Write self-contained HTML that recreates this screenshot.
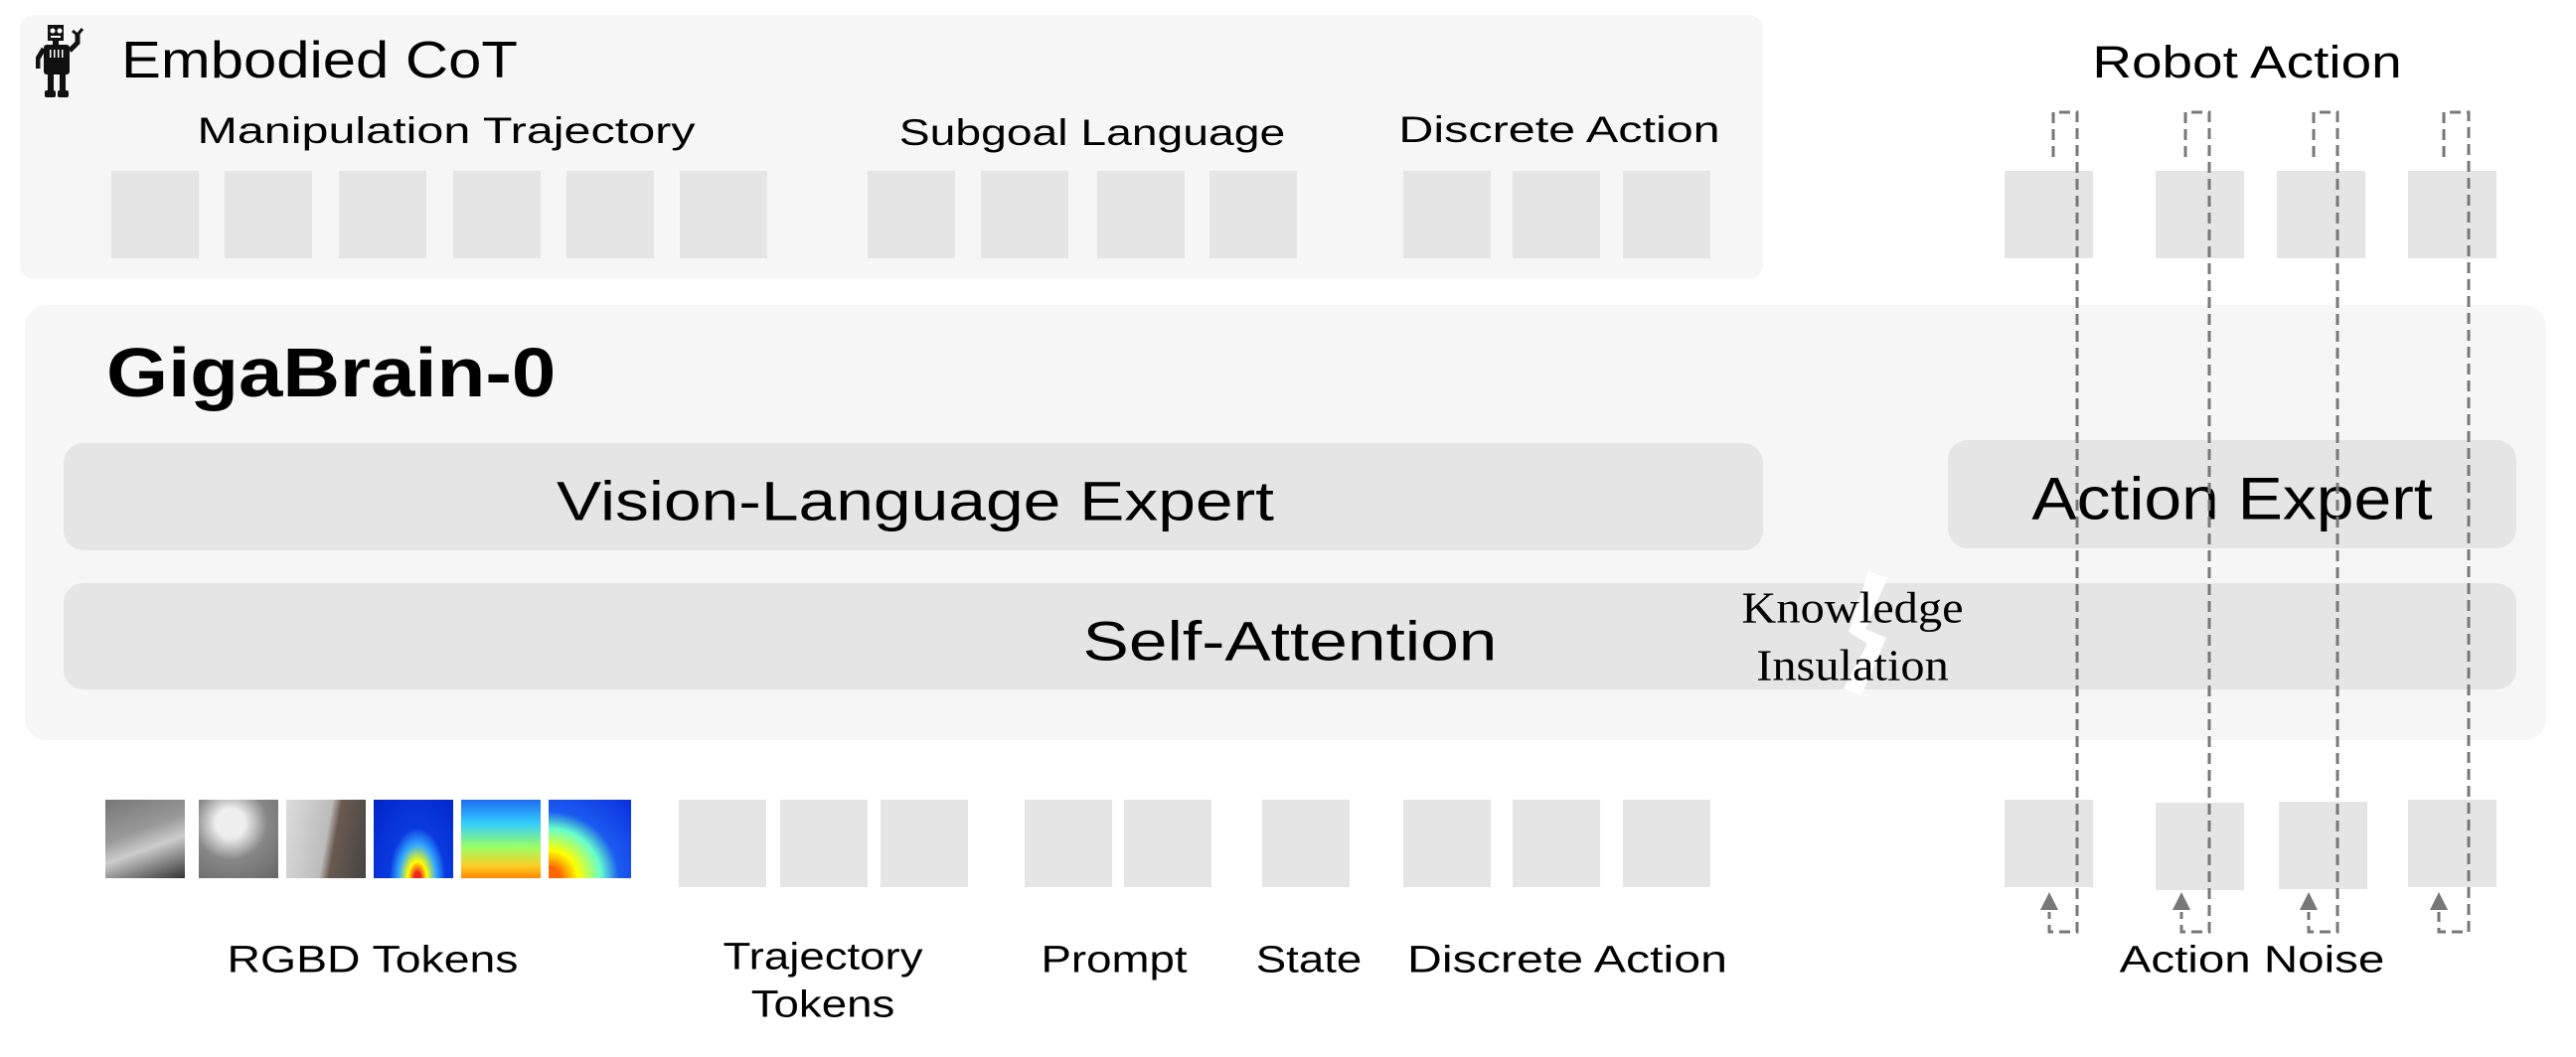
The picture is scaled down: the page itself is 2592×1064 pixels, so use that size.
<!DOCTYPE html>
<html><head><meta charset="utf-8"><style>
body{margin:0;width:2592px;height:1064px;background:#fff;position:relative;overflow:hidden;font-family:"Liberation Sans",sans-serif;color:#000}
.a{position:absolute}
.b{position:absolute;background:#e5e5e5}
.t{position:absolute;white-space:nowrap;transform:translate(-50%,-50%) scaleX(var(--s,1.25))}
</style></head><body>
<div class="a" style="left:20px;top:15px;width:1754px;height:266px;background:#f6f6f6;border-radius:14px"></div>
<div class="a" style="left:25px;top:307px;width:2537px;height:438px;background:#f6f6f6;border-radius:22px"></div>
<div class="a" style="left:64px;top:446px;width:1710px;height:108px;background:#e5e5e5;border-radius:20px"></div>
<div class="a" style="left:1960px;top:443px;width:572px;height:109px;background:#e5e5e5;border-radius:20px"></div>
<div class="a" style="left:64px;top:587px;width:2468px;height:107px;background:#e5e5e5;border-radius:20px"></div>

<svg class="a" style="left:36px;top:25px" width="52" height="76" viewBox="0 0 52 76">
<rect x="12" y="0" width="16" height="16" fill="#111"/><circle cx="17" cy="6" r="2.5" fill="#fff"/><circle cx="24" cy="6" r="2.5" fill="#fff"/><rect x="15" y="11" width="10" height="2" fill="#fff"/>
<rect x="17" y="16" width="6" height="4" fill="#111"/>
<rect x="8" y="20" width="26" height="30" rx="3" fill="#111"/>
<rect x="14" y="25" width="1.5" height="8" fill="#fff"/><rect x="18" y="25" width="1.5" height="8" fill="#fff"/><rect x="22" y="25" width="1.5" height="8" fill="#fff"/><rect x="26" y="25" width="1.5" height="8" fill="#fff"/>
<path d="M8 24 L2 34 L2 44" stroke="#111" stroke-width="5" fill="none"/>
<path d="M34 26 L42 18 L42 8" stroke="#111" stroke-width="5" fill="none"/><path d="M37 6 L42 10 L47 4" stroke="#111" stroke-width="3" fill="none"/>
<rect x="12" y="50" width="6" height="18" fill="#111"/><rect x="24" y="50" width="6" height="18" fill="#111"/>
<rect x="9" y="66" width="11" height="7" rx="2" fill="#111"/><rect x="22" y="66" width="11" height="7" rx="2" fill="#111"/>
</svg>
<div class="a" style="left:122px;top:35px;font-size:52px;line-height:1;transform:scaleX(1.15);transform-origin:left">Embodied CoT</div>
<div class="t" style="left:449px;top:132px;font-size:37px;--s:1.31">Manipulation Trajectory</div>
<div class="t" style="left:1099px;top:134px;font-size:37px;--s:1.25">Subgoal Language</div>
<div class="t" style="left:1569px;top:131px;font-size:37px;--s:1.31">Discrete Action</div>
<div class="t" style="left:2261px;top:63px;font-size:45px;--s:1.22">Robot Action</div>

<div class="b" style="left:112px;top:172px;width:88px;height:88px"></div>
<div class="b" style="left:226px;top:172px;width:88px;height:88px"></div>
<div class="b" style="left:341px;top:172px;width:88px;height:88px"></div>
<div class="b" style="left:456px;top:172px;width:88px;height:88px"></div>
<div class="b" style="left:570px;top:172px;width:88px;height:88px"></div>
<div class="b" style="left:684px;top:172px;width:88px;height:88px"></div>
<div class="b" style="left:873px;top:172px;width:88px;height:88px"></div>
<div class="b" style="left:987px;top:172px;width:88px;height:88px"></div>
<div class="b" style="left:1104px;top:172px;width:88px;height:88px"></div>
<div class="b" style="left:1217px;top:172px;width:88px;height:88px"></div>
<div class="b" style="left:1412px;top:172px;width:88px;height:88px"></div>
<div class="b" style="left:1522px;top:172px;width:88px;height:88px"></div>
<div class="b" style="left:1633px;top:172px;width:88px;height:88px"></div>
<div class="b" style="left:2017px;top:172px;width:89px;height:88px"></div>
<div class="b" style="left:2169px;top:172px;width:89px;height:88px"></div>
<div class="b" style="left:2291px;top:172px;width:89px;height:88px"></div>
<div class="b" style="left:2423px;top:172px;width:89px;height:88px"></div>

<div class="a" style="left:107px;top:340px;font-size:70px;line-height:1;font-weight:bold;transform:scaleX(1.14);transform-origin:left">GigaBrain-0</div>
<div class="t" style="left:921px;top:504px;font-size:56px;--s:1.21">Vision-Language Expert</div>
<div class="t" style="left:2246px;top:502px;font-size:60px;--s:1.13">Action Expert</div>
<div class="t" style="left:1298px;top:645px;font-size:56px;--s:1.24">Self-Attention</div>
<svg class="a" style="left:0;top:0" width="2592" height="1064">
<polygon points="1880,575 1899,582 1877,633 1898,642 1873,700 1855,693 1879,648 1860,636" fill="#fff"/>
</svg>
<div class="t" style="left:1864px;top:612px;font-size:44px;font-family:'Liberation Serif',serif;--s:1.1">Knowledge</div>
<div class="t" style="left:1864px;top:670px;font-size:44px;font-family:'Liberation Serif',serif;--s:1.1">Insulation</div>

<div class="a" style="left:106px;top:805px;width:80px;height:79px;background:linear-gradient(160deg,#777,#999 40%,#ccc 60%,#333)"></div>
<div class="a" style="left:200px;top:805px;width:80px;height:79px;background:radial-gradient(circle at 40% 30%,#eee 20%,#888 50%,#666)"></div>
<div class="a" style="left:288px;top:805px;width:80px;height:79px;background:linear-gradient(100deg,#ddd,#bbb 50%,#6a5a50 60%,#444)"></div>
<div class="a" style="left:376px;top:805px;width:80px;height:79px;background:radial-gradient(ellipse at 55% 100%,#e22 5%,#ff0 15%,#3af 30%,#0a3be0 45%,#0024c8)"></div>
<div class="a" style="left:464px;top:805px;width:80px;height:79px;background:linear-gradient(180deg,#1e6cf0,#3cf 30%,#9f6 60%,#fc2 85%,#f80)"></div>
<div class="a" style="left:552px;top:805px;width:83px;height:79px;background:radial-gradient(ellipse at 0% 100%,#f60 10%,#ff0 25%,#6fc 45%,#1b5cf0 60%,#0a2ee0)"></div>

<div class="b" style="left:683px;top:805px;width:88px;height:88px"></div>
<div class="b" style="left:785px;top:805px;width:88px;height:88px"></div>
<div class="b" style="left:886px;top:805px;width:88px;height:88px"></div>
<div class="b" style="left:1031px;top:805px;width:88px;height:88px"></div>
<div class="b" style="left:1131px;top:805px;width:88px;height:88px"></div>
<div class="b" style="left:1270px;top:805px;width:88px;height:88px"></div>
<div class="b" style="left:1412px;top:805px;width:88px;height:88px"></div>
<div class="b" style="left:1522px;top:805px;width:88px;height:88px"></div>
<div class="b" style="left:1633px;top:805px;width:88px;height:88px"></div>
<div class="b" style="left:2017px;top:805px;width:89px;height:88px"></div>
<div class="b" style="left:2169px;top:808px;width:89px;height:88px"></div>
<div class="b" style="left:2293px;top:807px;width:89px;height:88px"></div>
<div class="b" style="left:2423px;top:805px;width:89px;height:88px"></div>

<div class="t" style="left:375px;top:967px;font-size:38px;--s:1.22">RGBD Tokens</div>
<div class="t" style="left:828px;top:964px;font-size:38px;--s:1.2">Trajectory</div>
<div class="t" style="left:828px;top:1012px;font-size:38px;--s:1.2">Tokens</div>
<div class="t" style="left:1121px;top:967px;font-size:38px;--s:1.2">Prompt</div>
<div class="t" style="left:1317px;top:967px;font-size:38px;--s:1.2">State</div>
<div class="t" style="left:1577px;top:967px;font-size:38px;--s:1.27">Discrete Action</div>
<div class="t" style="left:2266px;top:967px;font-size:38px;--s:1.25">Action Noise</div>

<svg class="a" style="left:0;top:0" width="2592" height="1064">
<g stroke="#777" stroke-width="3" fill="none" stroke-dasharray="11,6">
<path d="M2066 158 V113 H2090 V938 H2062 V918"/>
<path d="M2199 158 V113 H2223 V938 H2195 V918"/>
<path d="M2328 158 V113 H2352 V938 H2323 V918"/>
<path d="M2459 158 V113 H2484 V938 H2454 V918"/>
</g>
<g fill="#777">
<polygon points="2062,898 2053,916 2071,916"/>
<polygon points="2195,898 2186,916 2204,916"/>
<polygon points="2323,898 2314,916 2332,916"/>
<polygon points="2454,898 2445,916 2463,916"/>
</g>
</svg>
</body></html>
